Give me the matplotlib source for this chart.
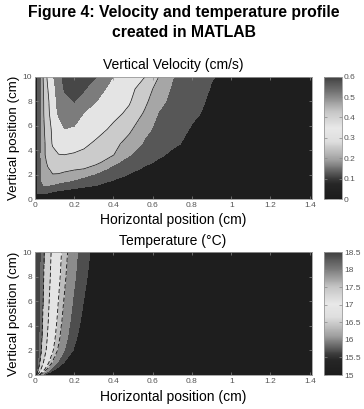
import numpy as np
import matplotlib
matplotlib.use('Agg')
import matplotlib.pyplot as plt
from matplotlib.colors import LinearSegmentedColormap, Normalize
from matplotlib.cm import ScalarMappable

plt.rcParams['font.family'] = ['Liberation Sans', 'DejaVu Sans']

# vertical velocity (cm/s)
velX = [0, 0.015, 0.03, 0.045, 0.065, 0.09, 0.12, 0.15, 0.2, 0.25, 0.31, 0.4, 0.48, 0.56, 0.63, 0.7, 0.8, 0.9, 1.0, 1.41]
velY = [0, 0.5, 1, 1.5, 2, 2.5, 3, 3.6, 4.5, 5.7, 7, 8, 9, 10]
velZ = [
    [0, 0, 0, 0, 0, 0, 0, 0, 0, 0, 0, 0, 0, 0, 0, 0, 0, 0, 0, 0],
    [0, 0.105, 0.12, 0.115, 0.101, 0.085, 0.07, 0.06, 0.05, 0.04, 0.035, 0.03, 0.025, 0.02, 0.018, 0.015, 0.012, 0.01, 0.008, 0.004],
    [0, 0.12, 0.175, 0.19, 0.185, 0.17, 0.155, 0.14, 0.12, 0.103, 0.09, 0.075, 0.065, 0.055, 0.048, 0.04, 0.032, 0.025, 0.02, 0.01],
    [0, 0.105, 0.195, 0.235, 0.25, 0.245, 0.23, 0.215, 0.193, 0.166, 0.135, 0.095, 0.08, 0.068, 0.06, 0.05, 0.04, 0.032, 0.025, 0.012],
    [0, 0.102, 0.195, 0.25, 0.285, 0.298, 0.295, 0.28, 0.25, 0.225, 0.19, 0.14, 0.097, 0.085, 0.07, 0.06, 0.05, 0.04, 0.03, 0.015],
    [0, 0.102, 0.19, 0.255, 0.295, 0.318, 0.33, 0.328, 0.318, 0.305, 0.25, 0.175, 0.125, 0.09, 0.075, 0.065, 0.055, 0.045, 0.035, 0.018],
    [0, 0.102, 0.195, 0.27, 0.315, 0.345, 0.358, 0.36, 0.355, 0.348, 0.335, 0.22, 0.16, 0.115, 0.09, 0.075, 0.06, 0.05, 0.04, 0.02],
    [0, 0.102, 0.198, 0.285, 0.33, 0.37, 0.397, 0.399, 0.39, 0.375, 0.355, 0.302, 0.205, 0.15, 0.11, 0.088, 0.07, 0.055, 0.045, 0.022],
    [0, 0.102, 0.19, 0.28, 0.343, 0.41, 0.44, 0.45, 0.44, 0.42, 0.382, 0.33, 0.26, 0.184, 0.15, 0.11, 0.085, 0.065, 0.05, 0.025],
    [0, 0.102, 0.19, 0.29, 0.36, 0.417, 0.46, 0.499, 0.49, 0.47, 0.44, 0.378, 0.32, 0.224, 0.174, 0.14, 0.092, 0.07, 0.055, 0.025],
    [0, 0.102, 0.18, 0.302, 0.37, 0.46, 0.51, 0.528, 0.54, 0.497, 0.468, 0.428, 0.38, 0.287, 0.195, 0.163, 0.115, 0.08, 0.06, 0.025],
    [0, 0.102, 0.18, 0.305, 0.38, 0.467, 0.52, 0.54, 0.551, 0.535, 0.502, 0.452, 0.41, 0.323, 0.228, 0.175, 0.125, 0.088, 0.068, 0.025],
    [0, 0.102, 0.18, 0.32, 0.398, 0.476, 0.526, 0.553, 0.568, 0.553, 0.526, 0.478, 0.428, 0.353, 0.26, 0.188, 0.14, 0.095, 0.072, 0.028],
    [0, 0.102, 0.18, 0.338, 0.419, 0.493, 0.536, 0.56, 0.58, 0.575, 0.552, 0.499, 0.45, 0.401, 0.301, 0.205, 0.153, 0.104, 0.08, 0.03],
]
velLevels = [0, 0.1, 0.2, 0.3, 0.4, 0.5, 0.55, 0.6]
velColors = ['#1e1e1e', '#575757', '#a6a6a6', '#cbcbcb', '#e4e4e4', '#7c7c7c', '#474747']
velLines = [0.3, 0.4]
velTicks = [0, 0.1, 0.2, 0.3, 0.4, 0.5, 0.6]

# temperature (C): profile at the top edge, and how wide the layer is at each height
tempXtop = [0, 0.026, 0.047, 0.082, 0.135, 0.166, 0.217, 0.28, 0.36]
tempProfile = [18.45, 18.0, 17.5, 17.0, 16.5, 16.0, 15.5, 15.2, 15.02]
tempY = [0, 0.25, 0.5, 1, 2, 3, 4.5, 6, 8, 10]
tempWidth = [0.15, 0.28, 0.38, 0.52, 0.69, 0.76, 0.83, 0.88, 0.95, 1.0]
tempFarX = [0.7, 1.41]
tempFar = 15.0
tempLevels = [15.0, 15.2, 15.5, 16.0, 16.5, 17.0, 17.5, 18.0, 18.5]
tempColors = ['#1e1e1e', '#4e4e4e', '#8c8c8c', '#bdbdbd', '#e4e4e4', '#cfcfcf', '#6c6c6c', '#434343']
tempLines = [16.0, 16.5, 17.0, 17.5]
tempTicks = [15, 15.5, 16, 16.5, 17, 17.5, 18, 18.5]

xTicks = [0, 0.2, 0.4, 0.6, 0.8, 1.0, 1.2, 1.4]
yTicks = [0, 2, 4, 6, 8, 10]

# grey colormap of the colorbars (dark - white - dark)
barCmap = LinearSegmentedColormap.from_list('bar', [
    (0.0, '#1c1c1c'), (0.12, '#262626'), (0.17, '#3c3c3c'), (0.32, '#a0a0a0'),
    (0.47, '#dedede'), (0.58, '#e8e8e8'), (0.72, '#c4c4c4'), (0.86, '#7c7c7c'), (1.0, '#404040')])

W, H = 364, 409
fig = plt.figure(figsize=(W / 100, H / 100), dpi=100)

def fx(px):
    return px / W

def fy(py):
    return 1 - py / H

def style_axes(ax):
    ax.set_xlim(0, 1.41)
    ax.set_ylim(0, 10)
    ax.set_xticks(xTicks)
    ax.set_xticklabels(['%g' % t for t in xTicks])
    ax.set_yticks(yTicks)
    ax.set_yticklabels(['%g' % t for t in yTicks])
    ax.tick_params(direction='in', length=2.5, width=0.5, color='#888888',
                   top=True, right=True, labelsize=6, labelcolor='#555555', pad=2.2)
    for s in ax.spines.values():
        s.set_color('#999999')
        s.set_linewidth(0.6)

def style_cbar(cb, ticks):
    cb.set_ticks(ticks)
    cb.set_ticklabels(['%g' % t for t in ticks])
    cb.ax.tick_params(direction='in', length=2, width=0.5, color='#888888',
                      left=True, right=True, labelsize=6, labelcolor='#555555', pad=1.5)
    cb.outline.set_edgecolor('#999999')
    cb.outline.set_linewidth(0.6)

# velocity
ax1 = fig.add_axes([fx(35), fy(199), fx(276.7), 122.3 / H])
ax1.contourf(velX, velY, np.array(velZ), levels=velLevels, colors=velColors)
ax1.contour(velX, velY, np.array(velZ), levels=velLines, colors='#111111', linewidths=0.5)
style_axes(ax1)
cax1 = fig.add_axes([fx(324), fy(199), fx(18), 122.3 / H])
cb1 = fig.colorbar(ScalarMappable(norm=Normalize(0, 0.6), cmap=barCmap), cax=cax1)
style_cbar(cb1, velTicks)

# temperature
tX = np.hstack([np.outer(tempWidth, tempXtop), np.tile(tempFarX, (len(tempY), 1))])
tZ = np.tile(tempProfile + [tempFar] * len(tempFarX), (len(tempY), 1))
tYY = np.tile(np.array(tempY)[:, None], (1, tX.shape[1]))
ax2 = fig.add_axes([fx(35), fy(375), fx(276.7), 122.7 / H])
ax2.contourf(tX, tYY, tZ, levels=tempLevels, colors=tempColors)
ax2.contour(tX, tYY, tZ, levels=tempLines, colors='#111111', linewidths=0.6,
            linestyles=[(0, (5, 3))])
style_axes(ax2)
cax2 = fig.add_axes([fx(324), fy(375), fx(18), 122.7 / H])
cb2 = fig.colorbar(ScalarMappable(norm=Normalize(15, 18.5), cmap=barCmap), cax=cax2)
style_cbar(cb2, tempTicks)

# texts
fig.text(fx(183.5), fy(12.5), 'Figure 4: Velocity and temperature profile',
         ha='center', va='center', fontsize=11.3, fontweight='bold')
fig.text(fx(183.5), fy(32.5), 'created in MATLAB',
         ha='center', va='center', fontsize=11.3, fontweight='bold')
fig.text(fx(173), fy(64.5), 'Vertical Velocity (cm/s)', ha='center', va='center', fontsize=10)
fig.text(fx(173), fy(220), 'Horizontal position (cm)', ha='center', va='center', fontsize=10)
fig.text(fx(173), fy(241), 'Temperature (\u00b0C)', ha='center', va='center', fontsize=10)
fig.text(fx(173), fy(396.5), 'Horizontal position (cm)', ha='center', va='center', fontsize=10)
fig.text(fx(14.3), fy(138), 'Vertical position (cm)', ha='center', va='center',
         rotation=90, fontsize=9.6)
fig.text(fx(14.3), fy(314), 'Vertical position (cm)', ha='center', va='center',
         rotation=90, fontsize=9.6)

fig.savefig('out.png', dpi=100)
